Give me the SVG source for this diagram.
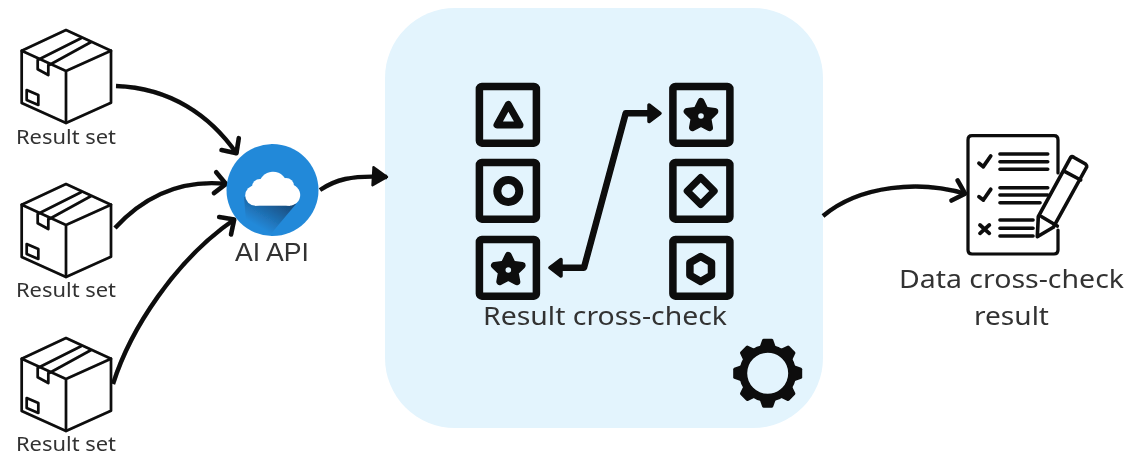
<svg xmlns="http://www.w3.org/2000/svg" width="1131" height="459" viewBox="0 0 1131 459">
<style>
.ink{fill:none;stroke:#0a0a0a;stroke-linecap:round;stroke-linejoin:round}
.box{stroke-width:2.7}
.tile{stroke-width:7.5}
.curve{stroke-width:4.4;stroke-linecap:butt}
.lbl{font-family:"Noto Sans","Open Sans","Liberation Sans",sans-serif;fill:#333}
.small{font-size:19px}
.big{font-size:26px}
.fill{fill:#0a0a0a;stroke:#0a0a0a;stroke-linejoin:round}
</style>
<defs>
<filter id="soft" x="0" y="0" width="100%" height="100%"><feGaussianBlur stdDeviation="0.5"/></filter>
<linearGradient id="shade" x1="0.95" y1="0" x2="0.3" y2="0.8">
<stop offset="0" stop-color="#143c66"/><stop offset="1" stop-color="#2489d9"/>
</linearGradient>
<marker id="open" markerUnits="userSpaceOnUse" markerWidth="26" markerHeight="28" refX="21" refY="14" orient="auto">
<path d="M9 3.5 L20 14 L9 24.5" fill="none" stroke="#0a0a0a" stroke-width="4.6" stroke-linecap="round" stroke-linejoin="round"/>
</marker>
<marker id="solid" markerUnits="userSpaceOnUse" markerWidth="24" markerHeight="28" refX="17" refY="14" orient="auto">
<path d="M3 5 L17 14 L3 23 Z" fill="#0a0a0a" stroke="#0a0a0a" stroke-width="2.4" stroke-linejoin="round"/>
</marker>
<g id="crate" class="ink box">
<path d="M66 30 L111 50.7 V102.7 L66 123 L21.7 103 V50.7 Z"/>
<path d="M21.7 50.7 L66 71 L111 50.7 M66 71 V123"/>
<path d="M37.7 60 L81 38.3 M49.3 65 L90.7 42.3 M37.7 60 V69.3 L48.3 75 V65"/>
<path d="M26.7 90 L38.3 95 V105 L26.7 100 Z"/>
</g>
<rect id="tile" class="ink tile" x="479.4" y="86.4" width="57" height="56.8" rx="2.5"/>
<g id="star">
<path class="fill" stroke-width="7" d="M0 -14.5 L4.2 -5.8 L13.8 -4.5 L6.8 2.2 L8.5 11.7 L0 7.2 L-8.5 11.7 L-6.8 2.2 L-13.8 -4.5 L-4.2 -5.8 Z"/>
<circle r="2.8" fill="#e3f4fd"/>
</g>
<path id="tooth" d="M-8.5 -25 L-5.5 -33.5 Q-5 -34.5 -4 -34.5 H4 Q5 -34.5 5.5 -33.5 L8.5 -25 Z" fill="#0a0a0a"/>
</defs>
<g filter="url(#soft)">
<g id="panel"><rect x="385" y="8" width="438" height="420" rx="70" fill="#e3f4fd"/></g>
<g id="connectors">
<path class="ink curve" marker-end="url(#open)" d="M116 86 C170 88 210 115 237 154"/>
<path class="ink curve" marker-end="url(#open)" d="M115 228 C150 190 190 180 227 184"/>
<path class="ink curve" marker-end="url(#open)" d="M113 384 C130 330 175 260 235 219"/>
<path class="ink curve" marker-end="url(#solid)" d="M320 190 C335 180 350 175 387 177"/>
<path class="ink curve" marker-end="url(#open)" d="M823 216 C860 185 920 180 966 194"/>
<path class="ink" stroke-width="6.5" d="M556 267.7 H584 L625.7 113.3 H652"/>
<path class="fill" stroke-width="3.5" d="M550 267.7 L561 259.5 V276 Z"/>
<path class="fill" stroke-width="3.5" d="M660 113.3 L649 105 V121.5 Z"/>
</g>
<g id="node-set-1"><use href="#crate"/><text class="lbl small" x="16" y="144" textLength="100" lengthAdjust="spacingAndGlyphs">Result set</text></g>
<g id="node-set-2"><use href="#crate" y="154"/><text class="lbl small" x="16" y="297" textLength="100" lengthAdjust="spacingAndGlyphs">Result set</text></g>
<g id="node-set-3"><use href="#crate" y="308"/><text class="lbl small" x="16" y="451" textLength="100" lengthAdjust="spacingAndGlyphs">Result set</text></g>
<g id="node-api">
<circle cx="272.5" cy="190" r="46" fill="#2489d9"/>
<path d="M244 197 L296 204 L270 235 Q256 231 246 221 Z" fill="url(#shade)"/>
<g fill="#fff">
<circle cx="255.5" cy="195.5" r="10.3"/>
<circle cx="260" cy="187" r="8"/>
<circle cx="273" cy="186" r="14.3"/>
<circle cx="289.5" cy="195" r="10.7"/>
<circle cx="286" cy="186" r="8"/>
<rect x="255" y="190" width="35" height="15.7"/>
</g>
<text x="235" y="260.5" font-family="'Liberation Sans',Arial,sans-serif" font-size="26" fill="#333" textLength="74" lengthAdjust="spacingAndGlyphs">AI API</text>
</g>
<g id="node-crosscheck">
<use href="#tile"/><use href="#tile" y="76"/><use href="#tile" y="153"/>
<use href="#tile" x="193.5"/><use href="#tile" x="193.5" y="76"/><use href="#tile" x="193.5" y="153"/>
<path class="ink" stroke-width="7" d="M508.3 104.5 L497 125 H520 Z"/>
<circle class="ink" stroke-width="8" cx="508.3" cy="191" r="11"/>
<use href="#star" x="508.3" y="270"/>
<use href="#star" x="701" y="116"/>
<path class="ink" stroke-width="7" d="M700.7 177.5 L714.2 191 L700.7 204.5 L687.2 191 Z"/>
<path class="ink" stroke-width="7.5" d="M700.7 256.5 L711.5 262.7 V275.3 L700.7 281.5 L689.9 275.3 V262.7 Z"/>
<text class="lbl big" x="483" y="325" textLength="244" lengthAdjust="spacingAndGlyphs">Result cross-check</text>
</g>
<g id="node-gear">
<circle cx="767.7" cy="373.3" r="24.5" fill="none" stroke="#0a0a0a" stroke-width="8"/>
<g transform="translate(767.7 373.3)">
<use href="#tooth"/><use href="#tooth" transform="rotate(45)"/><use href="#tooth" transform="rotate(90)"/><use href="#tooth" transform="rotate(135)"/>
<use href="#tooth" transform="rotate(180)"/><use href="#tooth" transform="rotate(225)"/><use href="#tooth" transform="rotate(270)"/><use href="#tooth" transform="rotate(315)"/>
</g>
</g>
<g id="node-result">
<path class="ink" stroke-width="3.2" d="M1058 173 V140 Q1058 135.7 1054 135.7 H972 Q968 135.7 968 140 V250 Q968 254 972 254 H1054 Q1058 254 1058 250 V230"/>
<path class="ink" stroke-width="3.6" stroke-linecap="butt" d="M1000 154 H1047.7 M1000 161.7 H1047.7 M1000 169.3 H1047.7 M1000 187.7 H1047.7 M1000 195 H1047.7 M1000 202.7 H1040 M1000 220 H1033 M1000 228.3 H1033 M1000 236 H1033"/>
<path class="ink" stroke-width="3.8" d="M979 163.3 L983.3 166.7 L990.7 156 M979 196.7 L983.3 200 L990.7 189.3 M980 225 L989.3 233.3 M989.3 225 L980 233.3"/>
<path class="ink" stroke-width="3.6" style="fill:#fff" d="M1037.3 236.7 L1038.3 216.7 L1070.7 157.3 Q1072 156 1074 157.5 L1085.5 164 Q1087 165.5 1086.7 167 L1053.3 227.3 Z"/>
<path class="ink" stroke-width="3.6" d="M1065 171.7 L1080.7 180 M1041.7 216.7 L1057.3 226"/>
<text class="lbl big" x="899" y="288" textLength="225" lengthAdjust="spacingAndGlyphs">Data cross-check</text>
<text class="lbl big" x="974" y="325" textLength="75" lengthAdjust="spacingAndGlyphs">result</text>
</g>
</g>
</svg>
